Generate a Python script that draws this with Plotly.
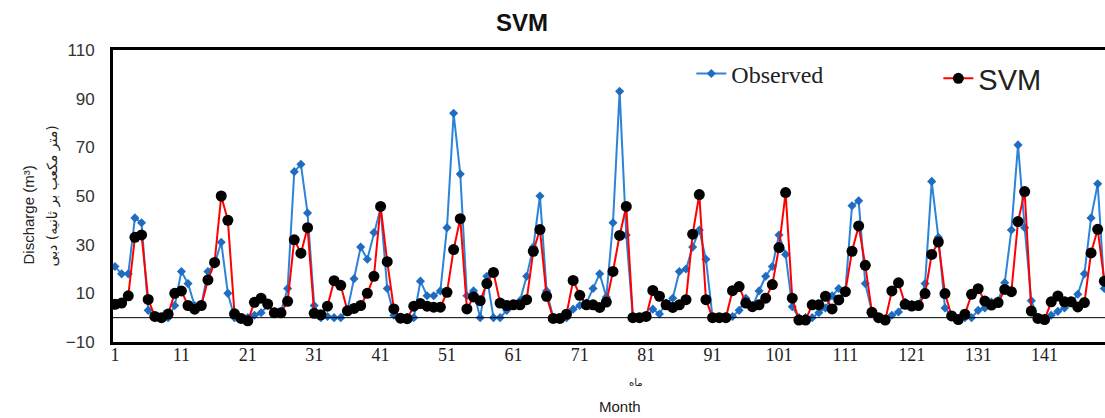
import plotly.graph_objects as go

months = list(range(1, 151))
observed = [21, 18, 18, 41, 39, 3, 0, 0, 0, 5,
            19, 14, 5, 5, 19, 22, 31, 10, 0, 0,
            0, 1, 2, 5, 2.5, 2.5, 12, 60, 63, 43,
            5, 0, 0.5, 0, 0, 3, 16, 29, 24, 35,
            45, 12, 1, 0, 0, 0, 15, 9, 9, 11,
            37, 84, 59, 9, 11, 0, 17, 0, 0, 3,
            5, 7, 17, 29, 50, 11, 0, 0, 0, 3.5,
            5, 6, 12, 18, 8.5, 39, 93, 34, 0, 0,
            0, 3.5, 1.5, 6, 8, 19, 20, 29, 36, 24,
            0, 0, 0, 0.5, 3, 8, 4.5, 11, 17, 21,
            34, 26, 4.5, 0, 0, 0, 2, 4, 9, 12,
            11, 46, 48, 14, 2.4, 0, -0.5, 1, 2.3, 6.4,
            5.5, 4.8, 14, 56, 33, 4, 0.5, -0.5, 0, 0,
            3, 4, 6.4, 7, 14.4, 36, 71, 37, 7, 0,
            -0.5, 1, 2.6, 4, 6, 9.6, 18, 41, 55, 12]
svm = [5.5, 6, 9, 33, 34, 7.5, 0.5, 0, 1.5, 10,
       11, 5, 3.5, 5, 15.5, 22.7, 50, 40, 1.6, -0.3,
       -1.3, 6.3, 8, 5.6, 2, 2, 6.7, 32, 26.5, 37,
       1.8, 1.2, 4.7, 15.2, 13.3, 2.8, 3.8, 5, 10, 17,
       45.7, 23, 3.6, -0.2, -0.4, 4.7, 5.8, 4.7, 4.3, 4.3,
       10.4, 28, 40.7, 3.6, 8.5, 7, 14, 18.6, 6, 5,
       5.3, 5.3, 7.4, 27.3, 36.2, 8.8, -0.3, -0.3, 1.4, 15.3,
       9.2, 5.3, 5.3, 4.2, 6.4, 19, 33.8, 45.7, 0, 0,
       0.5, 11.2, 8.8, 5.3, 4.2, 5.3, 7.4, 34.3, 50.6, 7.4,
       0, 0, 0, 11.1, 12.8, 6, 4.5, 5.3, 8, 13.6,
       28.8, 51.4, 8, -1, -1, 5.3, 5.3, 8.8, 3.6, 7.3,
       10.7, 27.3, 37.7, 21.5, 2.2, 0, -1, 11, 14.3, 5.5,
       4.8, 5, 9.9, 26, 31.1, 9.9, 0.7, -0.8, 1.4, 9.6,
       11.9, 6.8, 5.2, 6.2, 11.6, 10.7, 39.5, 51.8, 2.7, -0.3,
       -0.8, 6.5, 8.9, 6.5, 6.5, 4.4, 6.2, 26.6, 36.3, 15]
x_ticks = list(range(1, 150, 10))
y_ticks = [-10, 10, 30, 50, 70, 90, 110]

fig = go.Figure()
fig.add_trace(go.Scatter(
    x=months, y=observed, mode="lines+markers", name="Observed",
    line=dict(color="#2c84d8", width=2),
    marker=dict(symbol="diamond", size=7, color="#1f6cc0"),
    legend="legend"))
fig.add_trace(go.Scatter(
    x=months, y=svm, mode="lines+markers", name="SVM",
    line=dict(color="#ff0000", width=2),
    marker=dict(symbol="circle", size=11, color="black"),
    legend="legend2"))

fig.add_hline(y=0, line=dict(color="black", width=1))

fig.update_layout(
    width=1105, height=418,
    margin=dict(l=113, r=0, t=50, b=76),
    plot_bgcolor="white", paper_bgcolor="white",
    showlegend=True,
    legend=dict(x=0.583, y=0.995, xanchor="left", yanchor="top",
                font=dict(family="Liberation Serif", size=24, color="#222"),
                bgcolor="rgba(0,0,0,0)", itemwidth=30),
    legend2=dict(x=0.832, y=0.99, xanchor="left", yanchor="top",
                 font=dict(family="Liberation Sans", size=29, color="#222"),
                 bgcolor="rgba(0,0,0,0)", itemwidth=30),
    annotations=[
        dict(text="<b>SVM</b>", x=(522 - 113) / 992, y=1.0, xref="paper", yref="paper",
             yshift=28, showarrow=False, yanchor="middle",
             font=dict(family="Liberation Sans", size=24, color="#111")),
        dict(text="Discharge (m³)", x=(18 - 113) / 992, y=0.435, xref="paper", yref="paper",
             textangle=-90, showarrow=False,
             font=dict(family="Liberation Sans", size=15, color="#222")),
        dict(text="\u200f(متر مکعب بر ثانیه) دبی", x=(41 - 113) / 992, y=0.50,
             xref="paper", yref="paper", textangle=-90, showarrow=False,
             font=dict(family="DejaVu Sans", size=14, color="#222")),
        dict(text="ماه", x=(636 - 113) / 992, y=-0.14, xref="paper", yref="paper",
             showarrow=False, yanchor="middle",
             font=dict(family="DejaVu Sans", size=10, color="#222")),
        dict(text="Month", x=(620 - 113) / 992, y=-0.22, xref="paper", yref="paper",
             showarrow=False, yanchor="middle",
             font=dict(family="Liberation Sans", size=15, color="#222")),
    ],
)

fig.update_xaxes(
    range=[0.7, 150.1], tickvals=x_ticks, ticktext=[str(v) for v in x_ticks],
    showgrid=False, zeroline=False, showline=True, linecolor="black", linewidth=3,
    mirror=True, ticks="", ticklabelstandoff=-6,
    tickfont=dict(family="Liberation Serif", size=18, color="#222"))
fig.update_yaxes(
    range=[-10, 110], tickvals=y_ticks, showgrid=False, zeroline=False,
    showline=True, linecolor="black", linewidth=3, mirror=False,
    ticks="outside", ticklen=12, tickcolor="rgba(0,0,0,0)",
    tickfont=dict(family="Liberation Sans", size=17, color="#333"))

fig.write_html("out.html", config={"displayModeBar": False},
               post_script="document.body.style.margin='0';")
